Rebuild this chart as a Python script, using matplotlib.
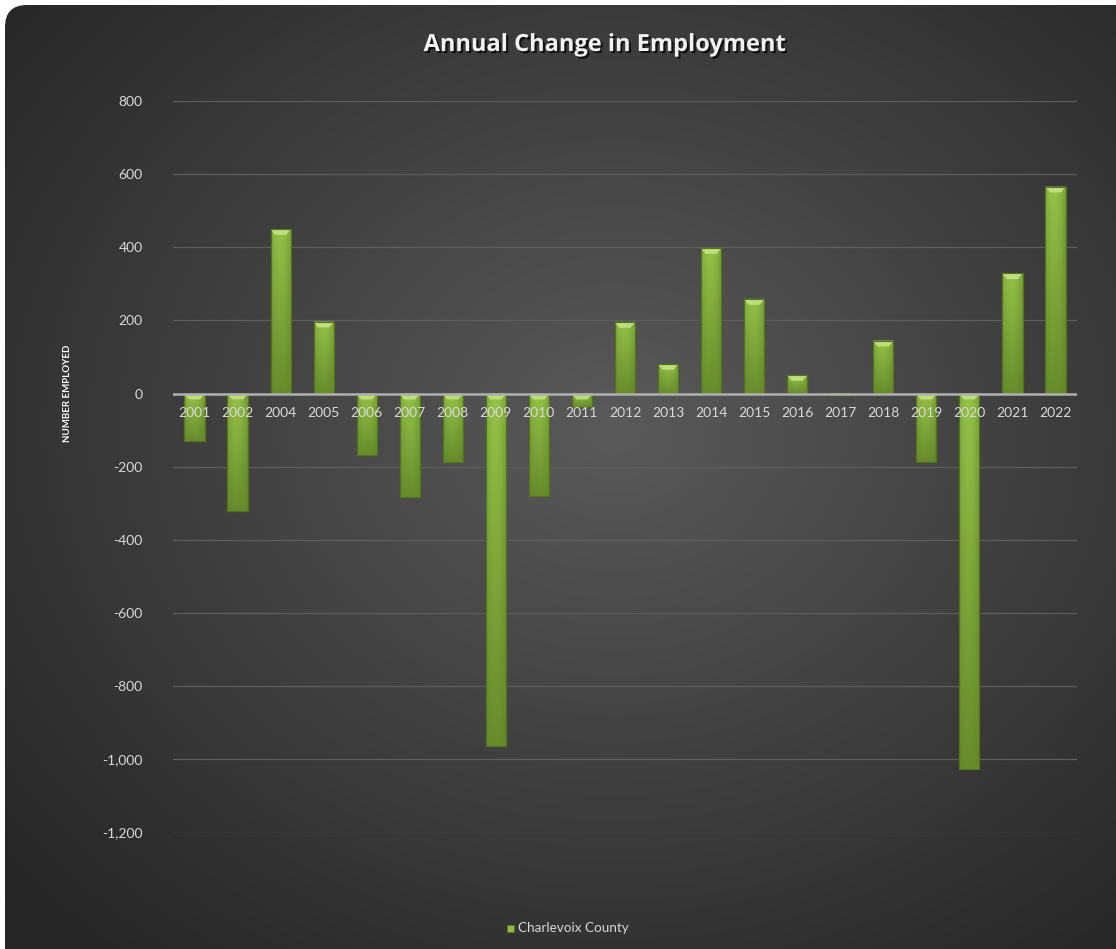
import numpy as np
import matplotlib
matplotlib.use("Agg")
import matplotlib.pyplot as plt
from matplotlib.patches import FancyBboxPatch, Rectangle
from matplotlib.ticker import FuncFormatter, MultipleLocator
import matplotlib.patheffects as pe

years = ["2001", "2002", "2004", "2005", "2006", "2007", "2008", "2009", "2010", "2011",
         "2012", "2013", "2014", "2015", "2016", "2017", "2018", "2019", "2020", "2021", "2022"]
change = [-130, -320, 450, 197, -167, -283, -188, -964, -281, -38,
          196, 81, 398, 259, 51, -5, 145, -186, -1027, 329, 566]
series_name = "Charlevoix County"
title = "Annual Change in Employment"
ylabel = "NUMBER EMPLOYED"

plt.rcParams['font.family'] = ['Lato', 'DejaVu Sans']

W, H = 1116, 949
fig = plt.figure(figsize=(W / 100, H / 100), dpi=100)
fig.patch.set_facecolor('white')

# background with radial gradient in a rounded box
bg = fig.add_axes([0, 0, 1, 1])
bg.set_xlim(0, W)
bg.set_ylim(H, 0)
bg.axis('off')
yy, xx = np.mgrid[0:H:2, 0:W:2]
cx, cy = W * 0.55, H * 0.45
r = np.sqrt(((xx - cx) / (W * 0.72)) ** 2 + ((yy - cy) / (H * 0.72)) ** 2)
r = np.clip(r, 0, 1)
c0 = np.array([0x5a, 0x5a, 0x5a]) / 255
c1 = np.array([0x26, 0x26, 0x26]) / 255
img = c0[None, None, :] * (1 - r[..., None]) + c1[None, None, :] * r[..., None]
im = bg.imshow(img, extent=[0, W, H, 0], aspect='auto', zorder=0)
box = FancyBboxPatch((5, 5), W + 20, H + 20, boxstyle="round,pad=0,rounding_size=22",
                     transform=bg.transData, facecolor='none', edgecolor='none')
bg.add_patch(box)
im.set_clip_path(box)

ax = fig.add_axes([173 / W, 1 - 832.5 / H, (1077 - 173) / W, (832.5 - 101) / H])
ax.set_facecolor('none')
x = np.arange(len(years))
bw = 0.47
bars = ax.bar(x, change, width=bw, color='#7da63a', edgecolor='#55771f', linewidth=0.8, zorder=3)

# 2D gradient (lighter at top and centre) on each bar
gx = np.linspace(0, 1, 48)
gy = np.linspace(0, 1, 128)  # 0 = bottom, 1 = top
hprof = 1 - np.clip(np.abs(gx - 0.45) * 1.4, 0, 1) ** 2
top_col = np.array([0x95, 0xc2, 0x48]) / 255
bot_col = np.array([0x68, 0x8c, 0x2c]) / 255
edge_col = np.array([0x5f, 0x82, 0x27]) / 255
for b, v in zip(bars, change):
    x0 = b.get_x()
    w = b.get_width()
    y0, y1 = (0, v) if v >= 0 else (v, 0)
    vmix = gy[:, None, None]
    base = bot_col * (1 - vmix) + top_col * vmix
    hm = hprof[None, :, None]
    gimg = edge_col * (1 - hm) + base * hm
    gi = ax.imshow(gimg, extent=[x0, x0 + w, y0, y1], aspect='auto', zorder=3.5,
                   origin='lower', interpolation='bilinear')
    gi.set_clip_path(b)
    # bevel highlight at the top end
    cap = min(abs(v), 16)
    top = y1
    ax.fill([x0, x0 + w, x0 + w * 0.78, x0 + w * 0.22], [top, top, top - cap, top - cap],
            color='#c5e585', alpha=0.85, zorder=4, linewidth=0)
    ax.add_patch(Rectangle((x0, y0), w, y1 - y0, fill=False, edgecolor='#52731d',
                           linewidth=0.8, zorder=4.5))

ax.set_xlim(-0.5, len(years) - 0.5)
ax.set_ylim(-1200, 800)
ax.yaxis.set_major_locator(MultipleLocator(200))
ax.yaxis.set_major_formatter(FuncFormatter(lambda v, p: f"{int(v):,}"))
ax.grid(axis='y', color='#5e5e5e', linewidth=0.9, zorder=1)
ax.axhline(0, color='#b0b0b0', linewidth=1.8, zorder=5)
for s in ax.spines.values():
    s.set_visible(False)
ax.tick_params(axis='y', length=0, colors='#d9d9d9', labelsize=10, pad=22)
ax.set_xticks(x)
ax.set_xticklabels([])
ax.tick_params(axis='x', length=0)
for xi, lab in zip(x, years):
    ax.text(xi, -52, lab, ha='center', va='center', color='#d9d9d9', fontsize=10, zorder=6)

fig.text(605 / W, 1 - 45 / H, title, ha='center', va='center', color='#f2f2f2',
         fontsize=17, fontweight='bold', family=['Open Sans', 'DejaVu Sans'],
         path_effects=[pe.withSimplePatchShadow(offset=(1.5, -1.5), shadow_rgbFace='black', alpha=0.7)])
fig.text(68 / W, 1 - 393 / H, ylabel, ha='center', va='center', rotation=90,
         color='white', fontsize=7, fontweight='bold')

# legend
lg = fig.add_axes([0, 0, 1, 1], facecolor='none')
lg.set_xlim(0, W)
lg.set_ylim(H, 0)
lg.axis('off')
lg.add_patch(Rectangle((507, 925), 7, 7, facecolor='#8cb840', edgecolor='#55771f', linewidth=0.5))
lg.text(518, 928.5, series_name, ha='left', va='center', color='#d9d9d9', fontsize=9.7)

fig.savefig('out.png', dpi=100, facecolor=fig.get_facecolor())
